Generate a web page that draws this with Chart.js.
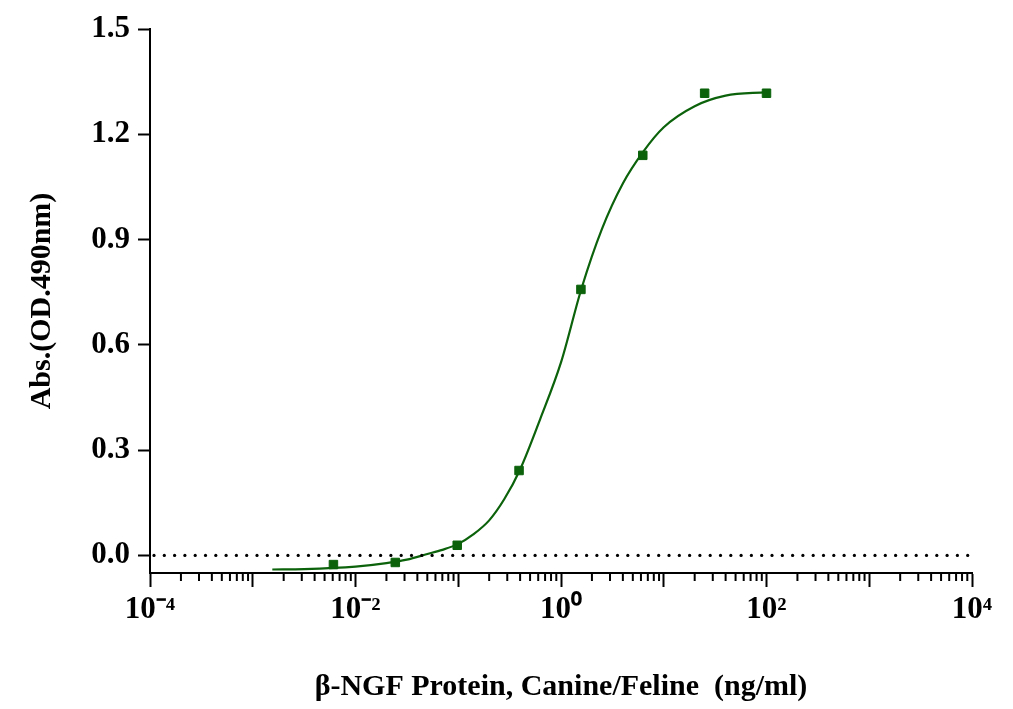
<!DOCTYPE html>
<html>
<head>
<meta charset="utf-8">
<script src="https://cdn.jsdelivr.net/npm/chart.js@4"></script>
<style>
	body { margin: 0; background: #fff; }
	#wrap { width: 1013px; height: 709px; }
</style>
</head>
<body>
<div id="wrap"><canvas id="chart" width="1013" height="709"></canvas></div>
<script>
const concentrations = [0.0061, 0.0244, 0.0977, 0.3906, 1.5625, 6.25, 25, 100] // ng/ml
const absorbance = [-0.026, -0.020, 0.029, 0.242, 0.758, 1.140, 1.317, 1.317]

// fitted curve
const curveX = [0.00155, 0.00316, 0.01, 0.02, 0.0316, 0.05, 0.07, 0.1, 0.14, 0.2, 0.28, 0.4, 0.63, 1, 1.58, 2.5, 4, 6.3, 10, 20, 40, 100]
const curveY = [-0.040, -0.039, -0.032, -0.022, -0.012, 0.004, 0.016, 0.033, 0.060, 0.10, 0.16, 0.245, 0.39, 0.55, 0.76, 0.93, 1.06, 1.15, 1.22, 1.28, 1.31, 1.32]

const decades = [-4, -3, -2, -1, 0, 1, 2, 3, 4]
const decadeLabels = { '-4': '10⁻⁴', '-2': '10⁻²', '0': '10⁰', '2': '10²', '4': '10⁴' }
const yTicks = [0, 0.3, 0.6, 0.9, 1.2, 1.5]

const green = '#0b620b'
const font = { family: '"Liberation Serif", "Times New Roman", serif', weight: 'bold', size: 31 }

// minor log ticks + dotted baseline
const extras = {
	id: 'extras',
	afterDraw(chart) {
		const { ctx, scales: { x, y } } = chart
		ctx.save()
		ctx.strokeStyle = '#000'
		ctx.lineWidth = 2
		decades.slice(0, -1).forEach(d => {
			for (let k = 2; k < 10; k++) {
				const px = x.getPixelForValue(k * Math.pow(10, d))
				ctx.beginPath()
				ctx.moveTo(px, x.top)
				ctx.lineTo(px, x.top + 8)
				ctx.stroke()
			}
		})
		ctx.fillStyle = '#000'
		const y0 = y.getPixelForValue(0)
		for (let px = x.left + 4; px < x.right; px += 10.3) {
			ctx.beginPath()
			ctx.arc(px, y0, 1.6, 0, Math.PI * 2)
			ctx.fill()
		}
		ctx.restore()
	},
}

new Chart(document.getElementById('chart'), {
	type: 'scatter',
	data: {
		datasets: [
			{
				data: concentrations.map((c, i) => ({ x: c, y: absorbance[i] })),
				pointStyle: 'rect',
				pointRadius: 6,
				backgroundColor: green,
				borderColor: green,
				showLine: false,
			},
			{
				data: curveX.map((c, i) => ({ x: c, y: curveY[i] })),
				showLine: true,
				cubicInterpolationMode: 'monotone',
				pointRadius: 0,
				borderColor: green,
				borderWidth: 2.2,
			},
		],
	},
	options: {
		responsive: false,
		animation: false,
		layout: { padding: { top: 29, right: 41 } },
		plugins: { legend: { display: false }, tooltip: { enabled: false } },
		scales: {
			x: {
				type: 'logarithmic',
				min: 1e-4,
				max: 1e4,
				afterBuildTicks: scale => { scale.ticks = decades.map(d => ({ value: Math.pow(10, d) })) },
				afterFit: scale => { scale.height = 136 },
				grid: { drawOnChartArea: false, tickLength: 14, tickWidth: 2, color: '#000' },
				border: { color: '#000', width: 2 },
				ticks: {
					autoSkip: false,
					maxRotation: 0,
					color: '#000',
					font,
					padding: 4,
					callback: (v) => decadeLabels[String(Math.round(Math.log10(v)))] || '',
				},
				title: {
					display: true,
					text: 'β-NGF Protein, Canine/Feline  (ng/ml)',
					color: '#000',
					font: { ...font, size: 30 },
					padding: { top: 18 },
				},
			},
			y: {
				min: -0.05,
				max: 1.5,
				afterBuildTicks: scale => { scale.ticks = yTicks.map(v => ({ value: v })) },
				afterFit: scale => { scale.width = 150 },
				grid: { drawOnChartArea: false, tickLength: 12, tickWidth: 2, color: '#000' },
				border: { color: '#000', width: 2 },
				ticks: { color: '#000', font, padding: 8, callback: v => v.toFixed(1) },
				title: {
					display: true,
					text: 'Abs.(OD.490nm)',
					color: '#000',
					font: { ...font, size: 30 },
					padding: { top: 24, bottom: 6 },
				},
			},
		},
	},
	plugins: [extras],
})
</script>
</body>
</html>
